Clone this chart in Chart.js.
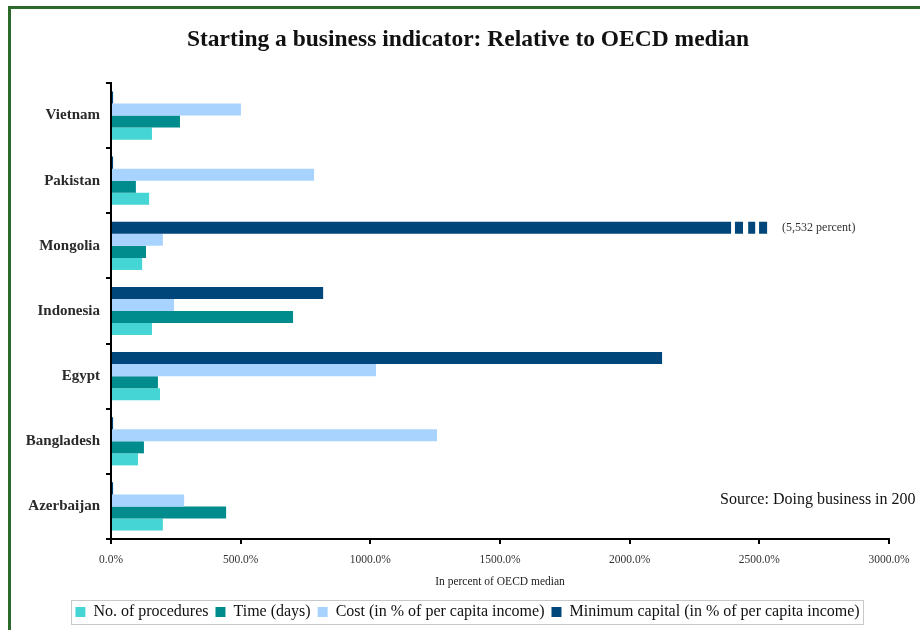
<!DOCTYPE html>
<html>
<head>
<meta charset="utf-8">
<script src="https://cdn.jsdelivr.net/npm/chart.js@4.4.1/dist/chart.umd.min.js"></script>
<style>
  html, body { margin: 0; padding: 0; background: #fff; }
  canvas { display: block; }
</style>
</head>
<body>
<canvas id="chart" width="920" height="630"></canvas>
<script>
// Values, in percent of OECD median
const countries = ["Vietnam", "Pakistan", "Mongolia", "Indonesia", "Egypt", "Bangladesh", "Azerbaijan"]
const procedures = [158, 147, 120, 158, 189, 104, 200]
const timeDays = [266, 96, 135, 702, 181, 127, 444]
const cost = [501, 783, 200, 243, 1022, 1257, 282]
const minCapital = [8, 8, 5532, 818, 2125, 8, 8]
const xTicks = [0, 500, 1000, 1500, 2000, 2500, 3000]

// Bars past this value are drawn truncated with a broken end
const displayCap = 2530
const breakGaps = [[2391, 2406], [2437, 2457], [2484, 2499]]

const titleText = "Starting a business indicator: Relative to OECD median"
const sourceText = "Source: Doing business in 200"
const serif = "'Liberation Serif', 'DejaVu Serif', serif"

const framePlugin = {
  id: "frame",
  afterLayout(chart) {
    // legend sits a little right of the plot centre in the original
    chart.legend.left += 23
    chart.legend.right += 23
  },
  beforeDraw(chart) {
    const { ctx } = chart
    ctx.save()
    ctx.fillStyle = "#fff"
    ctx.fillRect(0, 0, chart.width, chart.height)
    ctx.strokeStyle = "#2c6a2c"
    ctx.lineWidth = 3
    ctx.beginPath()
    ctx.moveTo(chart.width, 7.5)
    ctx.lineTo(9.5, 7.5)
    ctx.lineTo(9.5, chart.height)
    ctx.stroke()
    ctx.restore()
  },
  afterDraw(chart) {
    const { ctx } = chart
    // box round the legend items
    const boxes = chart.legend.legendHitBoxes
    if (boxes && boxes.length) {
      const left = Math.min(...boxes.map(b => b.left)) - 4
      const right = Math.max(...boxes.map(b => b.left + b.width)) + 4
      const top = Math.min(...boxes.map(b => b.top)) - 4
      const bottom = Math.max(...boxes.map(b => b.top + b.height)) + 4
      ctx.save()
      ctx.strokeStyle = "#c8c8c8"
      ctx.lineWidth = 1
      ctx.strokeRect(Math.round(left) + 0.5, Math.round(top) + 0.5, Math.round(right - left), Math.round(bottom - top))
      ctx.restore()
    }
    ctx.save()
    ctx.fillStyle = "#111"
    ctx.textBaseline = "middle"
    ctx.textAlign = "center"
    ctx.font = `bold 23.5px ${serif}`
    ctx.fillText(titleText, 468, 40)
    ctx.textAlign = "left"
    ctx.font = `16px ${serif}`
    ctx.fillText(sourceText, 720, 500)
    ctx.restore()
  }
}

const brokenBarPlugin = {
  id: "brokenBar",
  afterDatasetsDraw(chart) {
    const { ctx } = chart
    const x = chart.scales.x
    const meta = chart.getDatasetMeta(0)
    minCapital.forEach((v, i) => {
      if (v <= displayCap) return
      const bar = meta.data[i]
      const h = bar.height
      ctx.save()
      ctx.fillStyle = "#fff"
      breakGaps.forEach(([a, b]) => {
        const x0 = x.getPixelForValue(a)
        const x1 = x.getPixelForValue(b)
        ctx.fillRect(x0, bar.y - h / 2 - 1, x1 - x0, h + 2)
      })
      ctx.font = `12px ${serif}`
      ctx.fillStyle = "#333"
      ctx.textBaseline = "middle"
      ctx.fillText(`(${v.toLocaleString("en-US")} percent)`, x.getPixelForValue(displayCap) + 15, bar.y)
      ctx.restore()
    })
  }
}

new Chart(document.getElementById("chart"), {
  type: "bar",
  data: {
    labels: countries,
    datasets: [
      {
        label: "Minimum capital (in % of per capita income)",
        data: minCapital.map(v => Math.min(v, displayCap)),
        backgroundColor: "#00467a"
      },
      {
        label: "Cost (in % of per capita income)",
        data: cost,
        backgroundColor: "#a8d3ff"
      },
      {
        label: "Time (days)",
        data: timeDays,
        backgroundColor: "#008c8c"
      },
      {
        label: "No. of procedures",
        data: procedures,
        backgroundColor: "#46d5d5"
      }
    ]
  },
  options: {
    indexAxis: "y",
    responsive: false,
    animation: false,
    devicePixelRatio: 1,
    layout: { padding: { top: 83, right: 31, bottom: 0, left: 0 } },
    datasets: {
      bar: { categoryPercentage: 0.74, barPercentage: 1, borderWidth: 0 }
    },
    plugins: {
      title: { display: false },
      legend: {
        position: "bottom",
        reverse: true,
        labels: {
          color: "#111",
          font: { family: serif, size: 16 },
          boxWidth: 10,
          boxHeight: 10,
          padding: 7
        }
      },
      tooltip: { enabled: false }
    },
    scales: {
      x: {
        min: 0,
        max: 3000,
        afterBuildTicks: (scale) => { scale.ticks = xTicks.map(v => ({ value: v })) },
        ticks: {
          color: "#333",
          font: { family: serif, size: 11.5 },
          padding: 9,
          callback: (v) => `${v.toFixed(1)}%`
        },
        grid: { drawOnChartArea: false, tickLength: 5, color: "#000", lineWidth: 2 },
        border: { color: "#000", width: 2 },
        title: {
          display: true,
          text: "In percent of OECD median",
          color: "#222",
          font: { family: serif, size: 11.5 },
          padding: { top: 6, bottom: 8 }
        },
        afterFit: (scale) => { scale.height = 58 }
      },
      y: {
        ticks: {
          color: "#2a2a2a",
          font: { family: serif, size: 15, weight: "bold" },
          padding: 6
        },
        grid: { drawOnChartArea: false, offset: true, tickLength: 5, color: "#000", lineWidth: 2 },
        border: { color: "#000", width: 2 },
        afterFit: (scale) => { scale.width = 111 }
      }
    }
  },
  plugins: [framePlugin, brokenBarPlugin]
})
</script>
</body>
</html>
